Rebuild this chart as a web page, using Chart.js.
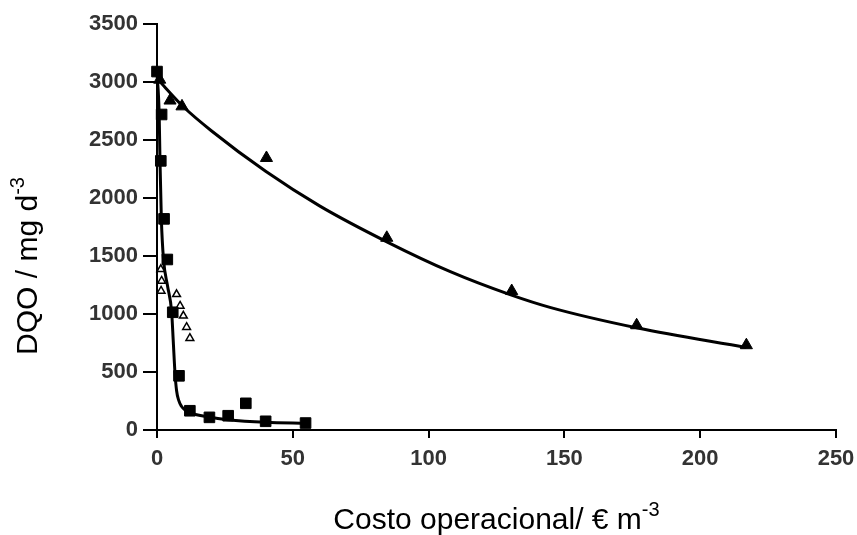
<!DOCTYPE html>
<html>
<head>
<meta charset="utf-8">
<script src="https://cdn.jsdelivr.net/npm/chart.js@4/dist/chart.umd.min.js"></script>
<style>
html, body { margin: 0; padding: 0; background: #fff; }
</style>
</head>
<body>
<canvas id="myChart" width="857" height="535"></canvas>
<script>
// axis ticks
var xTicks = [0, 50, 100, 150, 200, 250];
var yTicks = [0, 500, 1000, 1500, 2000, 2500, 3000, 3500];

// filled triangles (measured) and their fitted curve
var triX = [1, 4.8, 9.2, 40.3, 84.6, 130.6, 176.6, 217];
var triY = [3020, 2840, 2790, 2345, 1657, 1198, 903, 731];
var triFitX = [0, 10, 20, 40, 60, 85, 108, 130, 145, 177, 217];
var triFitY = [3030, 2780, 2580, 2230, 1930, 1618, 1365, 1167, 1055, 879, 711];

// filled squares (measured) and their fitted curve
var sqX = [0, 1.7, 1.4, 2.6, 3.8, 5.8, 8.1, 12.1, 19.3, 26.2, 32.7, 40, 54.7];
var sqY = [3090, 2720, 2320, 1820, 1470, 1015, 467, 166, 109, 123, 230, 75, 60];
var sqFitX = [0, 0.8, 1.1, 1.6, 2.4, 3.9, 5.4, 6.0, 6.6, 7.2, 8.0, 9.0, 10.5, 12.5, 19, 26, 40, 55];
var sqFitY = [3080, 2720, 2320, 1820, 1470, 1240, 1015, 760, 500, 340, 255, 205, 170, 145, 112, 89, 66, 58];

// open triangles
var openX = [1.4, 1.7, 1.5, 7.2, 8.5, 9.7, 10.9, 12.1];
var openY = [1385, 1285, 1199, 1170, 1070, 984, 886, 792];

function pts(xs, ys) {
    return xs.map(function (x, i) { return { x: x, y: ys[i] }; });
}

var tickFont = { family: '"Liberation Sans", Arial, sans-serif', size: 22, weight: 'bold' };

// axis titles with superscripts
var axisTitles = {
    id: 'axisTitles',
    afterDraw: function (chart) {
        var c = chart.ctx;
        var area = chart.chartArea;
        c.save();
        c.fillStyle = '#000';
        c.textAlign = 'left';
        c.textBaseline = 'alphabetic';

        var mainFont = '30px "Liberation Sans", Arial, sans-serif';
        var supFont = '20px "Liberation Sans", Arial, sans-serif';

        // x title
        var xMain = 'Costo operacional/ \u20AC m';
        c.font = mainFont;
        var w1 = c.measureText(xMain).width;
        c.font = supFont;
        var w2 = c.measureText('-3').width;
        var x0 = (area.left + area.right) / 2 - (w1 + w2) / 2;
        c.font = mainFont;
        c.fillText(xMain, x0, 529);
        c.font = supFont;
        c.fillText('-3', x0 + w1, 516);

        // y title
        var yMain = 'DQO / mg d';
        c.font = mainFont;
        var h1 = c.measureText(yMain).width;
        c.font = supFont;
        var h2 = c.measureText('-3').width;
        c.translate(37, 266 + (h1 + h2) / 2);
        c.rotate(-Math.PI / 2);
        c.font = mainFont;
        c.fillText(yMain, 0, 0);
        c.font = supFont;
        c.fillText('-3', h1, -13);
        c.restore();
    }
};

var ctx = document.getElementById('myChart');

var myChart = new Chart(ctx, {
    type: 'scatter',
    data: {
        datasets: [
            {
                label: 'triangles',
                data: pts(triX, triY),
                pointStyle: 'triangle',
                pointRadius: 7,
                backgroundColor: '#000',
                borderColor: '#000',
                borderWidth: 1,
                clip: false
            },
            {
                label: 'squares',
                data: pts(sqX, sqY),
                pointStyle: 'rect',
                pointRadius: 7.5,
                backgroundColor: '#000',
                borderColor: '#000',
                borderWidth: 1,
                clip: false
            },
            {
                label: 'open triangles',
                data: pts(openX, openY),
                pointStyle: 'triangle',
                pointRadius: 4.5,
                backgroundColor: '#fff',
                borderColor: '#000',
                borderWidth: 1.5,
                clip: false
            },
            {
                label: 'triangle fit',
                data: pts(triFitX, triFitY),
                showLine: true,
                cubicInterpolationMode: 'monotone',
                borderColor: '#000',
                borderWidth: 3,
                pointRadius: 0,
                clip: false
            },
            {
                label: 'square fit',
                data: pts(sqFitX, sqFitY),
                showLine: true,
                cubicInterpolationMode: 'monotone',
                borderColor: '#000',
                borderWidth: 3,
                pointRadius: 0,
                clip: false
            }
        ]
    },
    options: {
        responsive: false,
        animation: false,
        layout: { padding: { left: 0, top: 24, right: 21, bottom: 0 } },
        plugins: {
            legend: { display: false },
            tooltip: { enabled: false }
        },
        scales: {
            x: {
                type: 'linear',
                min: 0,
                max: 250,
                afterBuildTicks: function (axis) {
                    axis.ticks = xTicks.map(function (v) { return { value: v }; });
                },
                afterFit: function (axis) {
                    axis.height = 105;
                    axis.paddingLeft = 0;
                    axis.paddingRight = 0;
                },
                ticks: {
                    font: tickFont, color: '#333', padding: 8,
                    callback: function (v) { return String(v); }
                },
                grid: { drawOnChartArea: false, tickLength: 8, tickColor: '#000', lineWidth: 2 },
                border: { color: '#000', width: 2 }
            },
            y: {
                type: 'linear',
                min: 0,
                max: 3500,
                afterBuildTicks: function (axis) {
                    axis.ticks = yTicks.map(function (v) { return { value: v }; });
                },
                afterFit: function (axis) {
                    axis.width = 157;
                    axis.paddingTop = 0;
                    axis.paddingBottom = 0;
                },
                ticks: {
                    font: tickFont, color: '#333', padding: 5,
                    callback: function (v) { return String(v); }
                },
                grid: { drawOnChartArea: false, tickLength: 14, tickColor: '#000', lineWidth: 2 },
                border: { color: '#000', width: 2 }
            }
        }
    },
    plugins: [axisTitles]
});
</script>
</body>
</html>
